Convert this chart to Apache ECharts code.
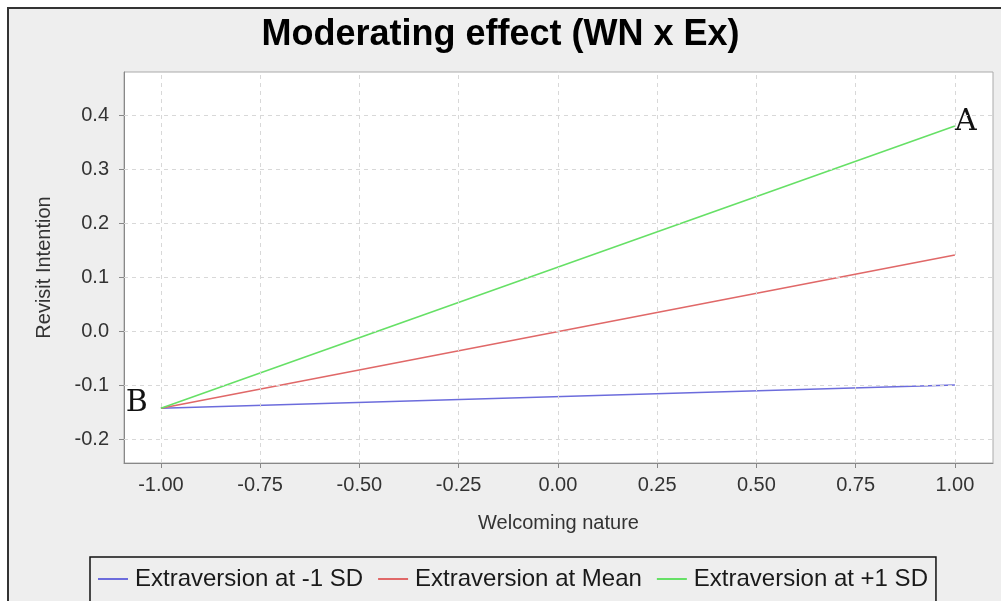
<!DOCTYPE html>
<html><head><meta charset="utf-8">
<script src="https://cdn.jsdelivr.net/npm/echarts@6/dist/echarts.min.js"></script>
<style>html,body{margin:0;padding:0;background:#fff}#c{width:1001px;height:601px}</style>
</head><body><div id="c"></div>
<script>
const titleText = 'Moderating effect (WN x Ex)';
const xName = 'Welcoming nature';
const yName = 'Revisit Intention';
const seriesNames = ['Extraversion at -1 SD', 'Extraversion at Mean', 'Extraversion at +1 SD'];
const xValues = [-1, 1];
const lowSD = [-0.143, -0.100];
const meanVals = [-0.143, 0.141];
const highSD = [-0.143, 0.380];
const xTicks = [-1, -0.75, -0.5, -0.25, 0, 0.25, 0.5, 0.75, 1];
const yTicks = [-0.2, -0.1, 0, 0.1, 0.2, 0.3, 0.4];
const colors = ['#6c6cdc', '#e06868', '#66e066'];

const pairs = vals => xValues.map((x, i) => [x, vals[i]]);
const chart = echarts.init(document.getElementById('c'), null, {renderer: 'canvas'});
const gridLineStyle = {color: '#d8d8d8', type: [4, 4], width: 1};
const letterStyle = {fontFamily: 'DejaVu Serif', fontSize: 30, color: '#111'};
const highData = pairs(highSD).map((p, i) => i === xValues.length - 1
  ? {value: p, label: Object.assign({show: true, formatter: 'A', position: 'right', distance: 0, offset: [0, -4]}, letterStyle)} : p);
const lowData = pairs(lowSD).map((p, i) => i === 0
  ? {value: p, label: Object.assign({show: true, formatter: 'B', position: 'left', distance: 13, offset: [0, -5]}, letterStyle)} : p);
const lineSeries = (name, data, color) => ({type: 'line', name, data, showSymbol: true, symbol: 'circle',
  symbolSize: 0.1, z: 3, lineStyle: {color, width: 1.6}, itemStyle: {color}, emphasis: {disabled: true}});

chart.setOption({
  animation: false,
  backgroundColor: '#fff',
  graphic: [{type: 'rect', z: -10, shape: {x: 8, y: 8, width: 1010, height: 620},
    style: {fill: '#eeeeee', stroke: '#333', lineWidth: 2}}],
  title: {text: titleText, left: 'center', top: 12,
    textStyle: {fontFamily: 'Liberation Sans', fontWeight: 'bold', fontSize: 36, color: '#000'}},
  grid: {left: 124, top: 72, right: 8, bottom: 138, show: true, backgroundColor: '#fff',
    borderColor: '#aaa', borderWidth: 1},
  legend: {data: seriesNames, left: 90, top: 557, icon: 'rect', itemWidth: 30, itemHeight: 2,
    itemGap: 15, padding: [10, 8, 60, 8], borderColor: '#111', borderWidth: 1.5,
    textStyle: {fontFamily: 'Liberation Sans', fontSize: 24, color: '#1a1a1a', padding: [0, 0, 0, 2]}},
  xAxis: {type: 'value', min: -1.093, max: 1.096, name: xName, nameLocation: 'middle', nameGap: 50,
    nameTextStyle: {fontFamily: 'Liberation Sans', fontSize: 20, color: '#333'},
    axisLine: {onZero: false, lineStyle: {color: '#888'}},
    axisTick: {customValues: xTicks, length: 5, lineStyle: {color: '#888'}},
    axisLabel: {customValues: xTicks, formatter: v => v.toFixed(2), fontFamily: 'Liberation Sans', fontSize: 20,
      color: '#333', margin: 12},
    splitLine: {show: false}},
  yAxis: {type: 'value', min: -0.2444, max: 0.48, name: yName, nameLocation: 'middle', nameGap: 70,
    nameTextStyle: {fontFamily: 'Liberation Sans', fontSize: 20, color: '#333'},
    axisLine: {show: true, onZero: false, lineStyle: {color: '#888'}},
    axisTick: {show: true, customValues: yTicks, length: 5, lineStyle: {color: '#888'}},
    axisLabel: {customValues: yTicks, formatter: v => v.toFixed(1), fontFamily: 'Liberation Sans', fontSize: 20,
      color: '#333', margin: 15},
    splitLine: {show: false}},
  series: [
    {type: 'line', name: '_grid', data: [], silent: true, z: 1,
      markLine: {silent: true, symbol: 'none', label: {show: false}, lineStyle: gridLineStyle, animation: false,
        emphasis: {disabled: true},
        data: xTicks.map(v => ({xAxis: v})).concat(yTicks.map(v => ({yAxis: v})))}},
    lineSeries(seriesNames[0], lowData, colors[0]),
    lineSeries(seriesNames[1], pairs(meanVals), colors[1]),
    lineSeries(seriesNames[2], highData, colors[2])
  ]
});
</script></body></html>
